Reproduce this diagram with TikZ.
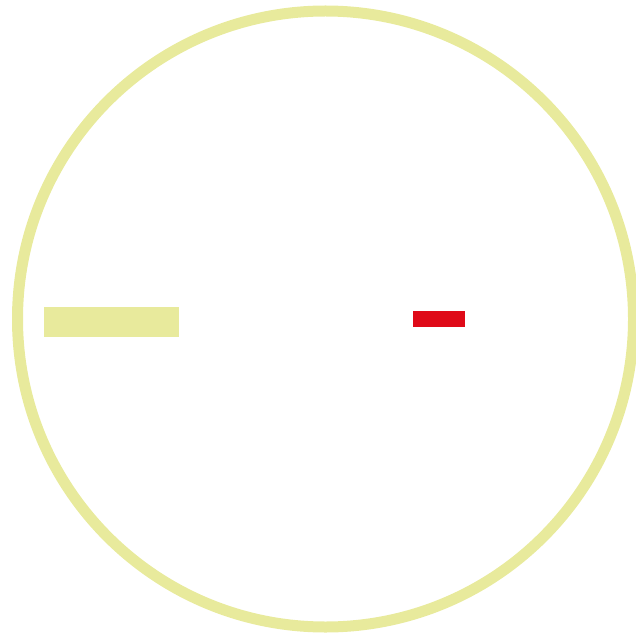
\documentclass[tikz,border=0pt]{standalone}
\definecolor{ringyellow}{HTML}{E8EA9C}
\definecolor{markred}{HTML}{DF0A18}
\tikzset{
  ring/.style={draw=ringyellow, line width=11pt},
  bar/.style={fill=ringyellow, draw=none},
  redbar/.style={fill=markred, draw=none}
}
\begin{document}
\begin{tikzpicture}[x=1pt,y=-1pt]
\useasboundingbox (0,0) rectangle (636,636);
\node[ring, circle, minimum size=616pt, inner sep=0pt] (ring) at (325.5,319) {};
\node[bar, inner sep=0pt, minimum width=135pt, minimum height=30pt] (lbar) at (111.5,322) {};
\node[redbar, inner sep=0pt, minimum width=52pt, minimum height=16pt] (rbar) at (438.5,319) {};
\end{tikzpicture}
\end{document}
